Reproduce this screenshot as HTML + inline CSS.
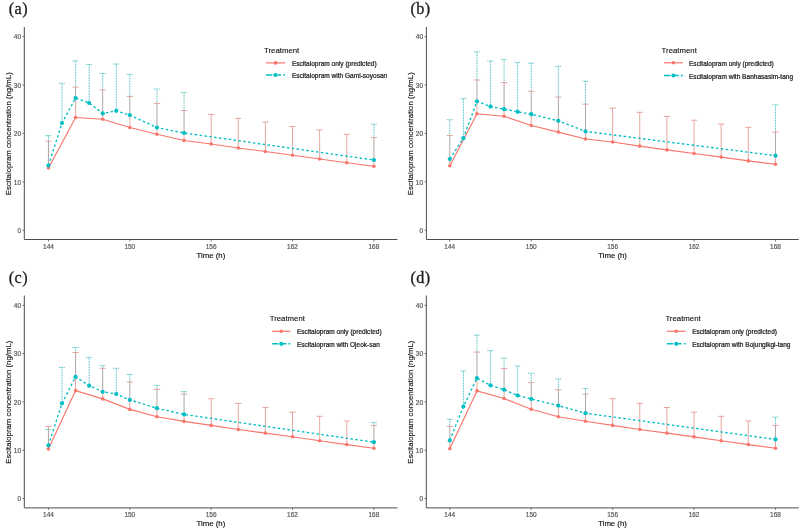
<!DOCTYPE html><html><head><meta charset="utf-8"><style>html,body{margin:0;padding:0;background:#fff;width:800px;height:532px;overflow:hidden}svg{display:block;will-change:transform}</style></head><body>
<svg width="800" height="532" viewBox="0 0 800 532" font-family="'Liberation Sans', sans-serif">
<rect width="800" height="532" fill="#fff"/>
<g><text transform="translate(8.7 14.35) scale(1 0.98)" font-family="'Liberation Serif', serif" font-size="16.2" letter-spacing="0.45" fill="#1a1a1a" stroke="#1a1a1a" stroke-width="0.3">(a)</text><path d="M24.3 27V239.5H397.5" fill="none" stroke="#4d4d4d" stroke-width="1.0"/><path d="M22.4 230.2H24.3" stroke="#4d4d4d" stroke-width="0.8"/><text x="21" y="232.95" font-size="6.5" fill="#5a5a5a" stroke="#5a5a5a" stroke-width="0.2" text-anchor="end">0</text><path d="M22.4 181.8H24.3" stroke="#4d4d4d" stroke-width="0.8"/><text x="21" y="184.55" font-size="6.5" fill="#5a5a5a" stroke="#5a5a5a" stroke-width="0.2" text-anchor="end">10</text><path d="M22.4 133.4H24.3" stroke="#4d4d4d" stroke-width="0.8"/><text x="21" y="136.15" font-size="6.5" fill="#5a5a5a" stroke="#5a5a5a" stroke-width="0.2" text-anchor="end">20</text><path d="M22.4 85H24.3" stroke="#4d4d4d" stroke-width="0.8"/><text x="21" y="87.75" font-size="6.5" fill="#5a5a5a" stroke="#5a5a5a" stroke-width="0.2" text-anchor="end">30</text><path d="M22.4 36.6H24.3" stroke="#4d4d4d" stroke-width="0.8"/><text x="21" y="39.35" font-size="6.5" fill="#5a5a5a" stroke="#5a5a5a" stroke-width="0.2" text-anchor="end">40</text><path d="M48.46 239.5V241.4" stroke="#4d4d4d" stroke-width="0.8"/><text x="48.46" y="248.8" font-size="6.5" fill="#5a5a5a" stroke="#5a5a5a" stroke-width="0.2" text-anchor="middle">144</text><path d="M129.82 239.5V241.4" stroke="#4d4d4d" stroke-width="0.8"/><text x="129.82" y="248.8" font-size="6.5" fill="#5a5a5a" stroke="#5a5a5a" stroke-width="0.2" text-anchor="middle">150</text><path d="M211.18 239.5V241.4" stroke="#4d4d4d" stroke-width="0.8"/><text x="211.18" y="248.8" font-size="6.5" fill="#5a5a5a" stroke="#5a5a5a" stroke-width="0.2" text-anchor="middle">156</text><path d="M292.54 239.5V241.4" stroke="#4d4d4d" stroke-width="0.8"/><text x="292.54" y="248.8" font-size="6.5" fill="#5a5a5a" stroke="#5a5a5a" stroke-width="0.2" text-anchor="middle">162</text><path d="M373.9 239.5V241.4" stroke="#4d4d4d" stroke-width="0.8"/><text x="373.9" y="248.8" font-size="6.5" fill="#5a5a5a" stroke="#5a5a5a" stroke-width="0.2" text-anchor="middle">168</text><text x="210.9" y="257.9" font-size="7.8" fill="#111" stroke="#111" stroke-width="0.15" text-anchor="middle">Time (h)</text><text transform="translate(10.8 133.75) rotate(-90)" font-size="7.8" fill="#111" stroke="#111" stroke-width="0.15" text-anchor="middle">Escitalopram concentration (ng/mL)</text><path d="M48.46 168V165.5" stroke="#E3968F" stroke-width="0.85" fill="none"/><path d="M48.46 141.2V135.7" stroke="#14AAAD" stroke-width="0.9" fill="none" stroke-dasharray="0.8 0.8"/><path d="M48.46 165.5V141.2" stroke="#A09696" stroke-width="0.85" fill="none"/><path d="M45.36 141.2H51.56" stroke="#E3968F" stroke-width="0.85" fill="none"/><path d="M45.46 135.7H51.46" stroke="#14AAAD" stroke-width="0.9" fill="none" stroke-dasharray="0.8 0.8"/><path d="M62.02 123V83.3" stroke="#14AAAD" stroke-width="0.9" fill="none" stroke-dasharray="0.8 0.8"/><path d="M59.02 83.3H65.02" stroke="#14AAAD" stroke-width="0.9" fill="none" stroke-dasharray="0.8 0.8"/><path d="M75.58 117.5V98" stroke="#E3968F" stroke-width="0.85" fill="none"/><path d="M75.58 87.2V60.9" stroke="#14AAAD" stroke-width="0.9" fill="none" stroke-dasharray="0.8 0.8"/><path d="M75.58 98V87.2" stroke="#A09696" stroke-width="0.85" fill="none"/><path d="M72.48 87.2H78.68" stroke="#E3968F" stroke-width="0.85" fill="none"/><path d="M72.58 60.9H78.58" stroke="#14AAAD" stroke-width="0.9" fill="none" stroke-dasharray="0.8 0.8"/><path d="M89.14 103V64.5" stroke="#14AAAD" stroke-width="0.9" fill="none" stroke-dasharray="0.8 0.8"/><path d="M86.14 64.5H92.14" stroke="#14AAAD" stroke-width="0.9" fill="none" stroke-dasharray="0.8 0.8"/><path d="M102.7 119.25V113.4" stroke="#E3968F" stroke-width="0.85" fill="none"/><path d="M102.7 89.9V73.4" stroke="#14AAAD" stroke-width="0.9" fill="none" stroke-dasharray="0.8 0.8"/><path d="M102.7 113.4V89.9" stroke="#A09696" stroke-width="0.85" fill="none"/><path d="M99.6 89.9H105.8" stroke="#E3968F" stroke-width="0.85" fill="none"/><path d="M99.7 73.4H105.7" stroke="#14AAAD" stroke-width="0.9" fill="none" stroke-dasharray="0.8 0.8"/><path d="M116.26 110.8V64" stroke="#14AAAD" stroke-width="0.9" fill="none" stroke-dasharray="0.8 0.8"/><path d="M113.26 64H119.26" stroke="#14AAAD" stroke-width="0.9" fill="none" stroke-dasharray="0.8 0.8"/><path d="M129.82 127.5V115.1" stroke="#E3968F" stroke-width="0.85" fill="none"/><path d="M129.82 96.4V74.4" stroke="#14AAAD" stroke-width="0.9" fill="none" stroke-dasharray="0.8 0.8"/><path d="M129.82 115.1V96.4" stroke="#A09696" stroke-width="0.85" fill="none"/><path d="M126.72 96.4H132.92" stroke="#E3968F" stroke-width="0.85" fill="none"/><path d="M126.82 74.4H132.82" stroke="#14AAAD" stroke-width="0.9" fill="none" stroke-dasharray="0.8 0.8"/><path d="M156.94 134.25V127.6" stroke="#E3968F" stroke-width="0.85" fill="none"/><path d="M156.94 103.4V89" stroke="#14AAAD" stroke-width="0.9" fill="none" stroke-dasharray="0.8 0.8"/><path d="M156.94 127.6V103.4" stroke="#A09696" stroke-width="0.85" fill="none"/><path d="M153.84 103.4H160.04" stroke="#E3968F" stroke-width="0.85" fill="none"/><path d="M153.94 89H159.94" stroke="#14AAAD" stroke-width="0.9" fill="none" stroke-dasharray="0.8 0.8"/><path d="M184.06 140.5V133" stroke="#E3968F" stroke-width="0.85" fill="none"/><path d="M184.06 110.5V92.5" stroke="#14AAAD" stroke-width="0.9" fill="none" stroke-dasharray="0.8 0.8"/><path d="M184.06 133V110.5" stroke="#A09696" stroke-width="0.85" fill="none"/><path d="M180.96 110.5H187.16" stroke="#E3968F" stroke-width="0.85" fill="none"/><path d="M181.06 92.5H187.06" stroke="#14AAAD" stroke-width="0.9" fill="none" stroke-dasharray="0.8 0.8"/><path d="M211.18 144V114.4" stroke="#E3968F" stroke-width="0.85" fill="none"/><path d="M208.08 114.4H214.28" stroke="#E3968F" stroke-width="0.85" fill="none"/><path d="M238.3 148V118.3" stroke="#E3968F" stroke-width="0.85" fill="none"/><path d="M235.2 118.3H241.4" stroke="#E3968F" stroke-width="0.85" fill="none"/><path d="M265.42 151.5V122" stroke="#E3968F" stroke-width="0.85" fill="none"/><path d="M262.32 122H268.52" stroke="#E3968F" stroke-width="0.85" fill="none"/><path d="M292.54 155.25V126.5" stroke="#E3968F" stroke-width="0.85" fill="none"/><path d="M289.44 126.5H295.64" stroke="#E3968F" stroke-width="0.85" fill="none"/><path d="M319.66 159V130" stroke="#E3968F" stroke-width="0.85" fill="none"/><path d="M316.56 130H322.76" stroke="#E3968F" stroke-width="0.85" fill="none"/><path d="M346.78 162.75V134.25" stroke="#E3968F" stroke-width="0.85" fill="none"/><path d="M343.68 134.25H349.88" stroke="#E3968F" stroke-width="0.85" fill="none"/><path d="M373.9 166.25V160" stroke="#E3968F" stroke-width="0.85" fill="none"/><path d="M373.9 137.5V124.25" stroke="#14AAAD" stroke-width="0.9" fill="none" stroke-dasharray="0.8 0.8"/><path d="M373.9 160V137.5" stroke="#A09696" stroke-width="0.85" fill="none"/><path d="M370.8 137.5H377" stroke="#E3968F" stroke-width="0.85" fill="none"/><path d="M370.9 124.25H376.9" stroke="#14AAAD" stroke-width="0.9" fill="none" stroke-dasharray="0.8 0.8"/><polyline points="48.46,168 75.58,117.5 102.7,119.25 129.82,127.5 156.94,134.25 184.06,140.5 211.18,144 238.3,148 265.42,151.5 292.54,155.25 319.66,159 346.78,162.75 373.9,166.25" fill="none" stroke="#F8766D" stroke-width="1.15" stroke-linejoin="round"/><circle cx="48.46" cy="168" r="1.8" fill="#F8766D"/><circle cx="75.58" cy="117.5" r="1.8" fill="#F8766D"/><circle cx="102.7" cy="119.25" r="1.8" fill="#F8766D"/><circle cx="129.82" cy="127.5" r="1.8" fill="#F8766D"/><circle cx="156.94" cy="134.25" r="1.8" fill="#F8766D"/><circle cx="184.06" cy="140.5" r="1.8" fill="#F8766D"/><circle cx="211.18" cy="144" r="1.8" fill="#F8766D"/><circle cx="238.3" cy="148" r="1.8" fill="#F8766D"/><circle cx="265.42" cy="151.5" r="1.8" fill="#F8766D"/><circle cx="292.54" cy="155.25" r="1.8" fill="#F8766D"/><circle cx="319.66" cy="159" r="1.8" fill="#F8766D"/><circle cx="346.78" cy="162.75" r="1.8" fill="#F8766D"/><circle cx="373.9" cy="166.25" r="1.8" fill="#F8766D"/><polyline points="48.46,165.5 62.02,123 75.58,98 89.14,103 102.7,113.4 116.26,110.8 129.82,115.1 156.94,127.6 184.06,133 373.9,160" fill="none" stroke="#00BFC4" stroke-width="1.35" stroke-dasharray="2.5 2.4"/><circle cx="48.46" cy="165.5" r="2.1" fill="#00BFC4"/><circle cx="62.02" cy="123" r="2.1" fill="#00BFC4"/><circle cx="75.58" cy="98" r="2.1" fill="#00BFC4"/><circle cx="89.14" cy="103" r="2.1" fill="#00BFC4"/><circle cx="102.7" cy="113.4" r="2.1" fill="#00BFC4"/><circle cx="116.26" cy="110.8" r="2.1" fill="#00BFC4"/><circle cx="129.82" cy="115.1" r="2.1" fill="#00BFC4"/><circle cx="156.94" cy="127.6" r="2.1" fill="#00BFC4"/><circle cx="184.06" cy="133" r="2.1" fill="#00BFC4"/><circle cx="373.9" cy="160" r="2.1" fill="#00BFC4"/><text x="264" y="52.9" font-size="7.8" fill="#111" stroke="#111" stroke-width="0.12">Treatment</text><path d="M265.9 62.9H285.1" stroke="#F8766D" stroke-width="1.2"/><circle cx="275.5" cy="62.9" r="1.8" fill="#F8766D"/><path d="M265.9 75H285.1" stroke="#00BFC4" stroke-width="1.6" stroke-dasharray="6.5 5 3.6 2.2 1.9 5"/><circle cx="275.5" cy="75" r="2.1" fill="#00BFC4"/><text x="291.9" y="66" font-size="6.55" fill="#222" stroke="#222" stroke-width="0.22">Escitalopram only (predicted)</text><text x="291.9" y="78.1" font-size="6.55" fill="#222" stroke="#222" stroke-width="0.22">Escitalopram with Gami-soyosan</text></g>
<g><text transform="translate(410.4 14.35) scale(1 0.98)" font-family="'Liberation Serif', serif" font-size="16.2" letter-spacing="0.45" fill="#1a1a1a" stroke="#1a1a1a" stroke-width="0.3">(b)</text><path d="M426.4 27V239.5H798.8" fill="none" stroke="#4d4d4d" stroke-width="1.0"/><path d="M424.5 230.2H426.4" stroke="#4d4d4d" stroke-width="0.8"/><text x="423.1" y="232.95" font-size="6.5" fill="#5a5a5a" stroke="#5a5a5a" stroke-width="0.2" text-anchor="end">0</text><path d="M424.5 181.8H426.4" stroke="#4d4d4d" stroke-width="0.8"/><text x="423.1" y="184.55" font-size="6.5" fill="#5a5a5a" stroke="#5a5a5a" stroke-width="0.2" text-anchor="end">10</text><path d="M424.5 133.4H426.4" stroke="#4d4d4d" stroke-width="0.8"/><text x="423.1" y="136.15" font-size="6.5" fill="#5a5a5a" stroke="#5a5a5a" stroke-width="0.2" text-anchor="end">20</text><path d="M424.5 85H426.4" stroke="#4d4d4d" stroke-width="0.8"/><text x="423.1" y="87.75" font-size="6.5" fill="#5a5a5a" stroke="#5a5a5a" stroke-width="0.2" text-anchor="end">30</text><path d="M424.5 36.6H426.4" stroke="#4d4d4d" stroke-width="0.8"/><text x="423.1" y="39.35" font-size="6.5" fill="#5a5a5a" stroke="#5a5a5a" stroke-width="0.2" text-anchor="end">40</text><path d="M449.8 239.5V241.4" stroke="#4d4d4d" stroke-width="0.8"/><text x="449.8" y="248.8" font-size="6.5" fill="#5a5a5a" stroke="#5a5a5a" stroke-width="0.2" text-anchor="middle">144</text><path d="M531.22 239.5V241.4" stroke="#4d4d4d" stroke-width="0.8"/><text x="531.22" y="248.8" font-size="6.5" fill="#5a5a5a" stroke="#5a5a5a" stroke-width="0.2" text-anchor="middle">150</text><path d="M612.64 239.5V241.4" stroke="#4d4d4d" stroke-width="0.8"/><text x="612.64" y="248.8" font-size="6.5" fill="#5a5a5a" stroke="#5a5a5a" stroke-width="0.2" text-anchor="middle">156</text><path d="M694.06 239.5V241.4" stroke="#4d4d4d" stroke-width="0.8"/><text x="694.06" y="248.8" font-size="6.5" fill="#5a5a5a" stroke="#5a5a5a" stroke-width="0.2" text-anchor="middle">162</text><path d="M775.48 239.5V241.4" stroke="#4d4d4d" stroke-width="0.8"/><text x="775.48" y="248.8" font-size="6.5" fill="#5a5a5a" stroke="#5a5a5a" stroke-width="0.2" text-anchor="middle">168</text><text x="612.6" y="257.9" font-size="7.8" fill="#111" stroke="#111" stroke-width="0.15" text-anchor="middle">Time (h)</text><text transform="translate(412.9 133.75) rotate(-90)" font-size="7.8" fill="#111" stroke="#111" stroke-width="0.15" text-anchor="middle">Escitalopram concentration (ng/mL)</text><path d="M449.8 165.8V159" stroke="#E3968F" stroke-width="0.85" fill="none"/><path d="M449.8 135.5V119.7" stroke="#14AAAD" stroke-width="0.9" fill="none" stroke-dasharray="0.8 0.8"/><path d="M449.8 159V135.5" stroke="#A09696" stroke-width="0.85" fill="none"/><path d="M446.7 135.5H452.9" stroke="#E3968F" stroke-width="0.85" fill="none"/><path d="M446.8 119.7H452.8" stroke="#14AAAD" stroke-width="0.9" fill="none" stroke-dasharray="0.8 0.8"/><path d="M463.37 138.2V98.4" stroke="#14AAAD" stroke-width="0.9" fill="none" stroke-dasharray="0.8 0.8"/><path d="M460.37 98.4H466.37" stroke="#14AAAD" stroke-width="0.9" fill="none" stroke-dasharray="0.8 0.8"/><path d="M476.94 113.7V101.3" stroke="#E3968F" stroke-width="0.85" fill="none"/><path d="M476.94 80V51.8" stroke="#14AAAD" stroke-width="0.9" fill="none" stroke-dasharray="0.8 0.8"/><path d="M476.94 101.3V80" stroke="#A09696" stroke-width="0.85" fill="none"/><path d="M473.84 80H480.04" stroke="#E3968F" stroke-width="0.85" fill="none"/><path d="M473.94 51.8H479.94" stroke="#14AAAD" stroke-width="0.9" fill="none" stroke-dasharray="0.8 0.8"/><path d="M490.51 106.6V61" stroke="#14AAAD" stroke-width="0.9" fill="none" stroke-dasharray="0.8 0.8"/><path d="M487.51 61H493.51" stroke="#14AAAD" stroke-width="0.9" fill="none" stroke-dasharray="0.8 0.8"/><path d="M504.08 116.3V109.2" stroke="#E3968F" stroke-width="0.85" fill="none"/><path d="M504.08 82.6V59.7" stroke="#14AAAD" stroke-width="0.9" fill="none" stroke-dasharray="0.8 0.8"/><path d="M504.08 109.2V82.6" stroke="#A09696" stroke-width="0.85" fill="none"/><path d="M500.98 82.6H507.18" stroke="#E3968F" stroke-width="0.85" fill="none"/><path d="M501.08 59.7H507.08" stroke="#14AAAD" stroke-width="0.9" fill="none" stroke-dasharray="0.8 0.8"/><path d="M517.65 111.8V62.4" stroke="#14AAAD" stroke-width="0.9" fill="none" stroke-dasharray="0.8 0.8"/><path d="M514.65 62.4H520.65" stroke="#14AAAD" stroke-width="0.9" fill="none" stroke-dasharray="0.8 0.8"/><path d="M531.22 125.5V114.2" stroke="#E3968F" stroke-width="0.85" fill="none"/><path d="M531.22 91.3V63.2" stroke="#14AAAD" stroke-width="0.9" fill="none" stroke-dasharray="0.8 0.8"/><path d="M531.22 114.2V91.3" stroke="#A09696" stroke-width="0.85" fill="none"/><path d="M528.12 91.3H534.32" stroke="#E3968F" stroke-width="0.85" fill="none"/><path d="M528.22 63.2H534.22" stroke="#14AAAD" stroke-width="0.9" fill="none" stroke-dasharray="0.8 0.8"/><path d="M558.36 132.1V120.8" stroke="#E3968F" stroke-width="0.85" fill="none"/><path d="M558.36 97.1V66.3" stroke="#14AAAD" stroke-width="0.9" fill="none" stroke-dasharray="0.8 0.8"/><path d="M558.36 120.8V97.1" stroke="#A09696" stroke-width="0.85" fill="none"/><path d="M555.26 97.1H561.46" stroke="#E3968F" stroke-width="0.85" fill="none"/><path d="M555.36 66.3H561.36" stroke="#14AAAD" stroke-width="0.9" fill="none" stroke-dasharray="0.8 0.8"/><path d="M585.5 139V131.4" stroke="#E3968F" stroke-width="0.85" fill="none"/><path d="M585.5 104.2V81.2" stroke="#14AAAD" stroke-width="0.9" fill="none" stroke-dasharray="0.8 0.8"/><path d="M585.5 131.4V104.2" stroke="#A09696" stroke-width="0.85" fill="none"/><path d="M582.4 104.2H588.6" stroke="#E3968F" stroke-width="0.85" fill="none"/><path d="M582.5 81.2H588.5" stroke="#14AAAD" stroke-width="0.9" fill="none" stroke-dasharray="0.8 0.8"/><path d="M612.64 142V108.1" stroke="#E3968F" stroke-width="0.85" fill="none"/><path d="M609.54 108.1H615.74" stroke="#E3968F" stroke-width="0.85" fill="none"/><path d="M639.78 146.1V112.3" stroke="#E3968F" stroke-width="0.85" fill="none"/><path d="M636.68 112.3H642.88" stroke="#E3968F" stroke-width="0.85" fill="none"/><path d="M666.92 149.9V116.4" stroke="#E3968F" stroke-width="0.85" fill="none"/><path d="M663.82 116.4H670.02" stroke="#E3968F" stroke-width="0.85" fill="none"/><path d="M694.06 153.5V120.2" stroke="#E3968F" stroke-width="0.85" fill="none"/><path d="M690.96 120.2H697.16" stroke="#E3968F" stroke-width="0.85" fill="none"/><path d="M721.2 157.1V124.1" stroke="#E3968F" stroke-width="0.85" fill="none"/><path d="M718.1 124.1H724.3" stroke="#E3968F" stroke-width="0.85" fill="none"/><path d="M748.34 160.9V127.4" stroke="#E3968F" stroke-width="0.85" fill="none"/><path d="M745.24 127.4H751.44" stroke="#E3968F" stroke-width="0.85" fill="none"/><path d="M775.48 164.2V155.7" stroke="#E3968F" stroke-width="0.85" fill="none"/><path d="M775.48 132.1V104.8" stroke="#14AAAD" stroke-width="0.9" fill="none" stroke-dasharray="0.8 0.8"/><path d="M775.48 155.7V132.1" stroke="#A09696" stroke-width="0.85" fill="none"/><path d="M772.38 132.1H778.58" stroke="#E3968F" stroke-width="0.85" fill="none"/><path d="M772.48 104.8H778.48" stroke="#14AAAD" stroke-width="0.9" fill="none" stroke-dasharray="0.8 0.8"/><polyline points="449.8,165.8 476.94,113.7 504.08,116.3 531.22,125.5 558.36,132.1 585.5,139 612.64,142 639.78,146.1 666.92,149.9 694.06,153.5 721.2,157.1 748.34,160.9 775.48,164.2" fill="none" stroke="#F8766D" stroke-width="1.15" stroke-linejoin="round"/><circle cx="449.8" cy="165.8" r="1.8" fill="#F8766D"/><circle cx="476.94" cy="113.7" r="1.8" fill="#F8766D"/><circle cx="504.08" cy="116.3" r="1.8" fill="#F8766D"/><circle cx="531.22" cy="125.5" r="1.8" fill="#F8766D"/><circle cx="558.36" cy="132.1" r="1.8" fill="#F8766D"/><circle cx="585.5" cy="139" r="1.8" fill="#F8766D"/><circle cx="612.64" cy="142" r="1.8" fill="#F8766D"/><circle cx="639.78" cy="146.1" r="1.8" fill="#F8766D"/><circle cx="666.92" cy="149.9" r="1.8" fill="#F8766D"/><circle cx="694.06" cy="153.5" r="1.8" fill="#F8766D"/><circle cx="721.2" cy="157.1" r="1.8" fill="#F8766D"/><circle cx="748.34" cy="160.9" r="1.8" fill="#F8766D"/><circle cx="775.48" cy="164.2" r="1.8" fill="#F8766D"/><polyline points="449.8,159 463.37,138.2 476.94,101.3 490.51,106.6 504.08,109.2 517.65,111.8 531.22,114.2 558.36,120.8 585.5,131.4 775.48,155.7" fill="none" stroke="#00BFC4" stroke-width="1.35" stroke-dasharray="2.5 2.4"/><circle cx="449.8" cy="159" r="2.1" fill="#00BFC4"/><circle cx="463.37" cy="138.2" r="2.1" fill="#00BFC4"/><circle cx="476.94" cy="101.3" r="2.1" fill="#00BFC4"/><circle cx="490.51" cy="106.6" r="2.1" fill="#00BFC4"/><circle cx="504.08" cy="109.2" r="2.1" fill="#00BFC4"/><circle cx="517.65" cy="111.8" r="2.1" fill="#00BFC4"/><circle cx="531.22" cy="114.2" r="2.1" fill="#00BFC4"/><circle cx="558.36" cy="120.8" r="2.1" fill="#00BFC4"/><circle cx="585.5" cy="131.4" r="2.1" fill="#00BFC4"/><circle cx="775.48" cy="155.7" r="2.1" fill="#00BFC4"/><text x="661.6" y="53" font-size="7.8" fill="#111" stroke="#111" stroke-width="0.12">Treatment</text><path d="M664 62.8H682.8" stroke="#F8766D" stroke-width="1.2"/><circle cx="673.4" cy="62.8" r="1.8" fill="#F8766D"/><path d="M664 75.5H682.8" stroke="#00BFC4" stroke-width="1.6" stroke-dasharray="6.36 4.9 3.52 2.15 1.86 4.9"/><circle cx="673.4" cy="75.5" r="2.1" fill="#00BFC4"/><text x="689" y="65.9" font-size="6.55" fill="#222" stroke="#222" stroke-width="0.22">Escitalopram only (predicted)</text><text x="689" y="78.6" font-size="6.55" fill="#222" stroke="#222" stroke-width="0.22">Escitalopram with Banhasasim-tang</text></g>
<g><text transform="translate(8.7 283.25) scale(1 0.98)" font-family="'Liberation Serif', serif" font-size="16.2" letter-spacing="0.45" fill="#1a1a1a" stroke="#1a1a1a" stroke-width="0.3">(c)</text><path d="M24.3 295.5V507.9H397.5" fill="none" stroke="#4d4d4d" stroke-width="1.0"/><path d="M22.4 498.5H24.3" stroke="#4d4d4d" stroke-width="0.8"/><text x="21" y="501.25" font-size="6.5" fill="#5a5a5a" stroke="#5a5a5a" stroke-width="0.2" text-anchor="end">0</text><path d="M22.4 450.2H24.3" stroke="#4d4d4d" stroke-width="0.8"/><text x="21" y="452.95" font-size="6.5" fill="#5a5a5a" stroke="#5a5a5a" stroke-width="0.2" text-anchor="end">10</text><path d="M22.4 401.9H24.3" stroke="#4d4d4d" stroke-width="0.8"/><text x="21" y="404.65" font-size="6.5" fill="#5a5a5a" stroke="#5a5a5a" stroke-width="0.2" text-anchor="end">20</text><path d="M22.4 353.6H24.3" stroke="#4d4d4d" stroke-width="0.8"/><text x="21" y="356.35" font-size="6.5" fill="#5a5a5a" stroke="#5a5a5a" stroke-width="0.2" text-anchor="end">30</text><path d="M22.4 305.3H24.3" stroke="#4d4d4d" stroke-width="0.8"/><text x="21" y="308.05" font-size="6.5" fill="#5a5a5a" stroke="#5a5a5a" stroke-width="0.2" text-anchor="end">40</text><path d="M48.46 507.9V509.8" stroke="#4d4d4d" stroke-width="0.8"/><text x="48.46" y="517.2" font-size="6.5" fill="#5a5a5a" stroke="#5a5a5a" stroke-width="0.2" text-anchor="middle">144</text><path d="M129.82 507.9V509.8" stroke="#4d4d4d" stroke-width="0.8"/><text x="129.82" y="517.2" font-size="6.5" fill="#5a5a5a" stroke="#5a5a5a" stroke-width="0.2" text-anchor="middle">150</text><path d="M211.18 507.9V509.8" stroke="#4d4d4d" stroke-width="0.8"/><text x="211.18" y="517.2" font-size="6.5" fill="#5a5a5a" stroke="#5a5a5a" stroke-width="0.2" text-anchor="middle">156</text><path d="M292.54 507.9V509.8" stroke="#4d4d4d" stroke-width="0.8"/><text x="292.54" y="517.2" font-size="6.5" fill="#5a5a5a" stroke="#5a5a5a" stroke-width="0.2" text-anchor="middle">162</text><path d="M373.9 507.9V509.8" stroke="#4d4d4d" stroke-width="0.8"/><text x="373.9" y="517.2" font-size="6.5" fill="#5a5a5a" stroke="#5a5a5a" stroke-width="0.2" text-anchor="middle">168</text><text x="210.9" y="526.3" font-size="7.8" fill="#111" stroke="#111" stroke-width="0.15" text-anchor="middle">Time (h)</text><text transform="translate(10.8 402.2) rotate(-90)" font-size="7.8" fill="#111" stroke="#111" stroke-width="0.15" text-anchor="middle">Escitalopram concentration (ng/mL)</text><path d="M48.46 449V445.3" stroke="#E3968F" stroke-width="0.85" fill="none"/><path d="M48.46 429.5V426.5" stroke="#E3968F" stroke-width="0.85" fill="none"/><path d="M48.46 445.3V429.5" stroke="#A09696" stroke-width="0.85" fill="none"/><path d="M45.36 426.5H51.56" stroke="#E3968F" stroke-width="0.85" fill="none"/><path d="M45.46 429.5H51.46" stroke="#14AAAD" stroke-width="0.9" fill="none" stroke-dasharray="0.8 0.8"/><path d="M62.02 403.3V367.4" stroke="#14AAAD" stroke-width="0.9" fill="none" stroke-dasharray="0.8 0.8"/><path d="M59.02 367.4H65.02" stroke="#14AAAD" stroke-width="0.9" fill="none" stroke-dasharray="0.8 0.8"/><path d="M75.58 390.6V376.9" stroke="#E3968F" stroke-width="0.85" fill="none"/><path d="M75.58 352.5V347.5" stroke="#14AAAD" stroke-width="0.9" fill="none" stroke-dasharray="0.8 0.8"/><path d="M75.58 376.9V352.5" stroke="#A09696" stroke-width="0.85" fill="none"/><path d="M72.48 352.5H78.68" stroke="#E3968F" stroke-width="0.85" fill="none"/><path d="M72.58 347.5H78.58" stroke="#14AAAD" stroke-width="0.9" fill="none" stroke-dasharray="0.8 0.8"/><path d="M89.14 385.7V357.4" stroke="#14AAAD" stroke-width="0.9" fill="none" stroke-dasharray="0.8 0.8"/><path d="M86.14 357.4H92.14" stroke="#14AAAD" stroke-width="0.9" fill="none" stroke-dasharray="0.8 0.8"/><path d="M102.7 398.9V391.8" stroke="#E3968F" stroke-width="0.85" fill="none"/><path d="M102.7 368.3V365.4" stroke="#14AAAD" stroke-width="0.9" fill="none" stroke-dasharray="0.8 0.8"/><path d="M102.7 391.8V368.3" stroke="#A09696" stroke-width="0.85" fill="none"/><path d="M99.6 368.3H105.8" stroke="#E3968F" stroke-width="0.85" fill="none"/><path d="M99.7 365.4H105.7" stroke="#14AAAD" stroke-width="0.9" fill="none" stroke-dasharray="0.8 0.8"/><path d="M116.26 394V368.3" stroke="#14AAAD" stroke-width="0.9" fill="none" stroke-dasharray="0.8 0.8"/><path d="M113.26 368.3H119.26" stroke="#14AAAD" stroke-width="0.9" fill="none" stroke-dasharray="0.8 0.8"/><path d="M129.82 409.4V399.9" stroke="#E3968F" stroke-width="0.85" fill="none"/><path d="M129.82 382V374.5" stroke="#14AAAD" stroke-width="0.9" fill="none" stroke-dasharray="0.8 0.8"/><path d="M129.82 399.9V382" stroke="#A09696" stroke-width="0.85" fill="none"/><path d="M126.72 382H132.92" stroke="#E3968F" stroke-width="0.85" fill="none"/><path d="M126.82 374.5H132.82" stroke="#14AAAD" stroke-width="0.9" fill="none" stroke-dasharray="0.8 0.8"/><path d="M156.94 416.7V408.2" stroke="#E3968F" stroke-width="0.85" fill="none"/><path d="M156.94 389.4V385.4" stroke="#14AAAD" stroke-width="0.9" fill="none" stroke-dasharray="0.8 0.8"/><path d="M156.94 408.2V389.4" stroke="#A09696" stroke-width="0.85" fill="none"/><path d="M153.84 389.4H160.04" stroke="#E3968F" stroke-width="0.85" fill="none"/><path d="M153.94 385.4H159.94" stroke="#14AAAD" stroke-width="0.9" fill="none" stroke-dasharray="0.8 0.8"/><path d="M184.06 421.4V414.4" stroke="#E3968F" stroke-width="0.85" fill="none"/><path d="M184.06 394.2V391.6" stroke="#14AAAD" stroke-width="0.9" fill="none" stroke-dasharray="0.8 0.8"/><path d="M184.06 414.4V394.2" stroke="#A09696" stroke-width="0.85" fill="none"/><path d="M180.96 394.2H187.16" stroke="#E3968F" stroke-width="0.85" fill="none"/><path d="M181.06 391.6H187.06" stroke="#14AAAD" stroke-width="0.9" fill="none" stroke-dasharray="0.8 0.8"/><path d="M211.18 425.4V398.7" stroke="#E3968F" stroke-width="0.85" fill="none"/><path d="M208.08 398.7H214.28" stroke="#E3968F" stroke-width="0.85" fill="none"/><path d="M238.3 429.5V403.4" stroke="#E3968F" stroke-width="0.85" fill="none"/><path d="M235.2 403.4H241.4" stroke="#E3968F" stroke-width="0.85" fill="none"/><path d="M265.42 433.1V407.5" stroke="#E3968F" stroke-width="0.85" fill="none"/><path d="M262.32 407.5H268.52" stroke="#E3968F" stroke-width="0.85" fill="none"/><path d="M292.54 436.7V412.2" stroke="#E3968F" stroke-width="0.85" fill="none"/><path d="M289.44 412.2H295.64" stroke="#E3968F" stroke-width="0.85" fill="none"/><path d="M319.66 440.8V416.3" stroke="#E3968F" stroke-width="0.85" fill="none"/><path d="M316.56 416.3H322.76" stroke="#E3968F" stroke-width="0.85" fill="none"/><path d="M346.78 444.6V421" stroke="#E3968F" stroke-width="0.85" fill="none"/><path d="M343.68 421H349.88" stroke="#E3968F" stroke-width="0.85" fill="none"/><path d="M373.9 448.2V442.2" stroke="#E3968F" stroke-width="0.85" fill="none"/><path d="M373.9 425.4V422.4" stroke="#14AAAD" stroke-width="0.9" fill="none" stroke-dasharray="0.8 0.8"/><path d="M373.9 442.2V425.4" stroke="#A09696" stroke-width="0.85" fill="none"/><path d="M370.8 425.4H377" stroke="#E3968F" stroke-width="0.85" fill="none"/><path d="M370.9 422.4H376.9" stroke="#14AAAD" stroke-width="0.9" fill="none" stroke-dasharray="0.8 0.8"/><polyline points="48.46,449 75.58,390.6 102.7,398.9 129.82,409.4 156.94,416.7 184.06,421.4 211.18,425.4 238.3,429.5 265.42,433.1 292.54,436.7 319.66,440.8 346.78,444.6 373.9,448.2" fill="none" stroke="#F8766D" stroke-width="1.15" stroke-linejoin="round"/><circle cx="48.46" cy="449" r="1.8" fill="#F8766D"/><circle cx="75.58" cy="390.6" r="1.8" fill="#F8766D"/><circle cx="102.7" cy="398.9" r="1.8" fill="#F8766D"/><circle cx="129.82" cy="409.4" r="1.8" fill="#F8766D"/><circle cx="156.94" cy="416.7" r="1.8" fill="#F8766D"/><circle cx="184.06" cy="421.4" r="1.8" fill="#F8766D"/><circle cx="211.18" cy="425.4" r="1.8" fill="#F8766D"/><circle cx="238.3" cy="429.5" r="1.8" fill="#F8766D"/><circle cx="265.42" cy="433.1" r="1.8" fill="#F8766D"/><circle cx="292.54" cy="436.7" r="1.8" fill="#F8766D"/><circle cx="319.66" cy="440.8" r="1.8" fill="#F8766D"/><circle cx="346.78" cy="444.6" r="1.8" fill="#F8766D"/><circle cx="373.9" cy="448.2" r="1.8" fill="#F8766D"/><polyline points="48.46,445.3 62.02,403.3 75.58,376.9 89.14,385.7 102.7,391.8 116.26,394 129.82,399.9 156.94,408.2 184.06,414.4 373.9,442.2" fill="none" stroke="#00BFC4" stroke-width="1.35" stroke-dasharray="2.5 2.4"/><circle cx="48.46" cy="445.3" r="2.1" fill="#00BFC4"/><circle cx="62.02" cy="403.3" r="2.1" fill="#00BFC4"/><circle cx="75.58" cy="376.9" r="2.1" fill="#00BFC4"/><circle cx="89.14" cy="385.7" r="2.1" fill="#00BFC4"/><circle cx="102.7" cy="391.8" r="2.1" fill="#00BFC4"/><circle cx="116.26" cy="394" r="2.1" fill="#00BFC4"/><circle cx="129.82" cy="399.9" r="2.1" fill="#00BFC4"/><circle cx="156.94" cy="408.2" r="2.1" fill="#00BFC4"/><circle cx="184.06" cy="414.4" r="2.1" fill="#00BFC4"/><circle cx="373.9" cy="442.2" r="2.1" fill="#00BFC4"/><text x="269.7" y="321.3" font-size="7.8" fill="#111" stroke="#111" stroke-width="0.12">Treatment</text><path d="M272.1 331.3H290.3" stroke="#F8766D" stroke-width="1.2"/><circle cx="281.2" cy="331.3" r="1.8" fill="#F8766D"/><path d="M272.1 343.8H290.3" stroke="#00BFC4" stroke-width="1.6" stroke-dasharray="6.16 4.74 3.41 2.09 1.8 4.74"/><circle cx="281.2" cy="343.8" r="2.1" fill="#00BFC4"/><text x="296.9" y="334.4" font-size="6.55" fill="#222" stroke="#222" stroke-width="0.22">Escitalopram only (predicted)</text><text x="296.9" y="346.9" font-size="6.55" fill="#222" stroke="#222" stroke-width="0.22">Escitalopram with Ojeok-san</text></g>
<g><text transform="translate(410.4 283.25) scale(1 0.98)" font-family="'Liberation Serif', serif" font-size="16.2" letter-spacing="0.45" fill="#1a1a1a" stroke="#1a1a1a" stroke-width="0.3">(d)</text><path d="M426.3 295.5V507.9H798.8" fill="none" stroke="#4d4d4d" stroke-width="1.0"/><path d="M424.4 498.5H426.3" stroke="#4d4d4d" stroke-width="0.8"/><text x="423" y="501.25" font-size="6.5" fill="#5a5a5a" stroke="#5a5a5a" stroke-width="0.2" text-anchor="end">0</text><path d="M424.4 450.2H426.3" stroke="#4d4d4d" stroke-width="0.8"/><text x="423" y="452.95" font-size="6.5" fill="#5a5a5a" stroke="#5a5a5a" stroke-width="0.2" text-anchor="end">10</text><path d="M424.4 401.9H426.3" stroke="#4d4d4d" stroke-width="0.8"/><text x="423" y="404.65" font-size="6.5" fill="#5a5a5a" stroke="#5a5a5a" stroke-width="0.2" text-anchor="end">20</text><path d="M424.4 353.6H426.3" stroke="#4d4d4d" stroke-width="0.8"/><text x="423" y="356.35" font-size="6.5" fill="#5a5a5a" stroke="#5a5a5a" stroke-width="0.2" text-anchor="end">30</text><path d="M424.4 305.3H426.3" stroke="#4d4d4d" stroke-width="0.8"/><text x="423" y="308.05" font-size="6.5" fill="#5a5a5a" stroke="#5a5a5a" stroke-width="0.2" text-anchor="end">40</text><path d="M449.8 507.9V509.8" stroke="#4d4d4d" stroke-width="0.8"/><text x="449.8" y="517.2" font-size="6.5" fill="#5a5a5a" stroke="#5a5a5a" stroke-width="0.2" text-anchor="middle">144</text><path d="M531.22 507.9V509.8" stroke="#4d4d4d" stroke-width="0.8"/><text x="531.22" y="517.2" font-size="6.5" fill="#5a5a5a" stroke="#5a5a5a" stroke-width="0.2" text-anchor="middle">150</text><path d="M612.64 507.9V509.8" stroke="#4d4d4d" stroke-width="0.8"/><text x="612.64" y="517.2" font-size="6.5" fill="#5a5a5a" stroke="#5a5a5a" stroke-width="0.2" text-anchor="middle">156</text><path d="M694.06 507.9V509.8" stroke="#4d4d4d" stroke-width="0.8"/><text x="694.06" y="517.2" font-size="6.5" fill="#5a5a5a" stroke="#5a5a5a" stroke-width="0.2" text-anchor="middle">162</text><path d="M775.48 507.9V509.8" stroke="#4d4d4d" stroke-width="0.8"/><text x="775.48" y="517.2" font-size="6.5" fill="#5a5a5a" stroke="#5a5a5a" stroke-width="0.2" text-anchor="middle">168</text><text x="612.55" y="526.3" font-size="7.8" fill="#111" stroke="#111" stroke-width="0.15" text-anchor="middle">Time (h)</text><text transform="translate(412.8 402.2) rotate(-90)" font-size="7.8" fill="#111" stroke="#111" stroke-width="0.15" text-anchor="middle">Escitalopram concentration (ng/mL)</text><path d="M449.8 448.7V440.4" stroke="#E3968F" stroke-width="0.85" fill="none"/><path d="M449.8 426.4V419.3" stroke="#14AAAD" stroke-width="0.9" fill="none" stroke-dasharray="0.8 0.8"/><path d="M449.8 440.4V426.4" stroke="#A09696" stroke-width="0.85" fill="none"/><path d="M446.7 426.4H452.9" stroke="#E3968F" stroke-width="0.85" fill="none"/><path d="M446.8 419.3H452.8" stroke="#14AAAD" stroke-width="0.9" fill="none" stroke-dasharray="0.8 0.8"/><path d="M463.37 406.6V370.9" stroke="#14AAAD" stroke-width="0.9" fill="none" stroke-dasharray="0.8 0.8"/><path d="M460.37 370.9H466.37" stroke="#14AAAD" stroke-width="0.9" fill="none" stroke-dasharray="0.8 0.8"/><path d="M476.94 390.9V378.2" stroke="#E3968F" stroke-width="0.85" fill="none"/><path d="M476.94 352.1V335.1" stroke="#14AAAD" stroke-width="0.9" fill="none" stroke-dasharray="0.8 0.8"/><path d="M476.94 378.2V352.1" stroke="#A09696" stroke-width="0.85" fill="none"/><path d="M473.84 352.1H480.04" stroke="#E3968F" stroke-width="0.85" fill="none"/><path d="M473.94 335.1H479.94" stroke="#14AAAD" stroke-width="0.9" fill="none" stroke-dasharray="0.8 0.8"/><path d="M490.51 385.3V350.6" stroke="#14AAAD" stroke-width="0.9" fill="none" stroke-dasharray="0.8 0.8"/><path d="M487.51 350.6H493.51" stroke="#14AAAD" stroke-width="0.9" fill="none" stroke-dasharray="0.8 0.8"/><path d="M504.08 398.5V389.7" stroke="#E3968F" stroke-width="0.85" fill="none"/><path d="M504.08 368.6V358.2" stroke="#14AAAD" stroke-width="0.9" fill="none" stroke-dasharray="0.8 0.8"/><path d="M504.08 389.7V368.6" stroke="#A09696" stroke-width="0.85" fill="none"/><path d="M500.98 368.6H507.18" stroke="#E3968F" stroke-width="0.85" fill="none"/><path d="M501.08 358.2H507.08" stroke="#14AAAD" stroke-width="0.9" fill="none" stroke-dasharray="0.8 0.8"/><path d="M517.65 395.5V366.1" stroke="#14AAAD" stroke-width="0.9" fill="none" stroke-dasharray="0.8 0.8"/><path d="M514.65 366.1H520.65" stroke="#14AAAD" stroke-width="0.9" fill="none" stroke-dasharray="0.8 0.8"/><path d="M531.22 409.2V399" stroke="#E3968F" stroke-width="0.85" fill="none"/><path d="M531.22 382.6V373.2" stroke="#14AAAD" stroke-width="0.9" fill="none" stroke-dasharray="0.8 0.8"/><path d="M531.22 399V382.6" stroke="#A09696" stroke-width="0.85" fill="none"/><path d="M528.12 382.6H534.32" stroke="#E3968F" stroke-width="0.85" fill="none"/><path d="M528.22 373.2H534.22" stroke="#14AAAD" stroke-width="0.9" fill="none" stroke-dasharray="0.8 0.8"/><path d="M558.36 416.8V405.6" stroke="#E3968F" stroke-width="0.85" fill="none"/><path d="M558.36 389.7V379" stroke="#14AAAD" stroke-width="0.9" fill="none" stroke-dasharray="0.8 0.8"/><path d="M558.36 405.6V389.7" stroke="#A09696" stroke-width="0.85" fill="none"/><path d="M555.26 389.7H561.46" stroke="#E3968F" stroke-width="0.85" fill="none"/><path d="M555.36 379H561.36" stroke="#14AAAD" stroke-width="0.9" fill="none" stroke-dasharray="0.8 0.8"/><path d="M585.5 421.3V413.2" stroke="#E3968F" stroke-width="0.85" fill="none"/><path d="M585.5 394.1V388.6" stroke="#14AAAD" stroke-width="0.9" fill="none" stroke-dasharray="0.8 0.8"/><path d="M585.5 413.2V394.1" stroke="#A09696" stroke-width="0.85" fill="none"/><path d="M582.4 394.1H588.6" stroke="#E3968F" stroke-width="0.85" fill="none"/><path d="M582.5 388.6H588.5" stroke="#14AAAD" stroke-width="0.9" fill="none" stroke-dasharray="0.8 0.8"/><path d="M612.64 425.4V398.7" stroke="#E3968F" stroke-width="0.85" fill="none"/><path d="M609.54 398.7H615.74" stroke="#E3968F" stroke-width="0.85" fill="none"/><path d="M639.78 429.5V403.4" stroke="#E3968F" stroke-width="0.85" fill="none"/><path d="M636.68 403.4H642.88" stroke="#E3968F" stroke-width="0.85" fill="none"/><path d="M666.92 433.1V407.5" stroke="#E3968F" stroke-width="0.85" fill="none"/><path d="M663.82 407.5H670.02" stroke="#E3968F" stroke-width="0.85" fill="none"/><path d="M694.06 436.9V412.2" stroke="#E3968F" stroke-width="0.85" fill="none"/><path d="M690.96 412.2H697.16" stroke="#E3968F" stroke-width="0.85" fill="none"/><path d="M721.2 440.8V416.3" stroke="#E3968F" stroke-width="0.85" fill="none"/><path d="M718.1 416.3H724.3" stroke="#E3968F" stroke-width="0.85" fill="none"/><path d="M748.34 444.6V421" stroke="#E3968F" stroke-width="0.85" fill="none"/><path d="M745.24 421H751.44" stroke="#E3968F" stroke-width="0.85" fill="none"/><path d="M775.48 448.2V439.4" stroke="#E3968F" stroke-width="0.85" fill="none"/><path d="M775.48 425.4V417.1" stroke="#14AAAD" stroke-width="0.9" fill="none" stroke-dasharray="0.8 0.8"/><path d="M775.48 439.4V425.4" stroke="#A09696" stroke-width="0.85" fill="none"/><path d="M772.38 425.4H778.58" stroke="#E3968F" stroke-width="0.85" fill="none"/><path d="M772.48 417.1H778.48" stroke="#14AAAD" stroke-width="0.9" fill="none" stroke-dasharray="0.8 0.8"/><polyline points="449.8,448.7 476.94,390.9 504.08,398.5 531.22,409.2 558.36,416.8 585.5,421.3 612.64,425.4 639.78,429.5 666.92,433.1 694.06,436.9 721.2,440.8 748.34,444.6 775.48,448.2" fill="none" stroke="#F8766D" stroke-width="1.15" stroke-linejoin="round"/><circle cx="449.8" cy="448.7" r="1.8" fill="#F8766D"/><circle cx="476.94" cy="390.9" r="1.8" fill="#F8766D"/><circle cx="504.08" cy="398.5" r="1.8" fill="#F8766D"/><circle cx="531.22" cy="409.2" r="1.8" fill="#F8766D"/><circle cx="558.36" cy="416.8" r="1.8" fill="#F8766D"/><circle cx="585.5" cy="421.3" r="1.8" fill="#F8766D"/><circle cx="612.64" cy="425.4" r="1.8" fill="#F8766D"/><circle cx="639.78" cy="429.5" r="1.8" fill="#F8766D"/><circle cx="666.92" cy="433.1" r="1.8" fill="#F8766D"/><circle cx="694.06" cy="436.9" r="1.8" fill="#F8766D"/><circle cx="721.2" cy="440.8" r="1.8" fill="#F8766D"/><circle cx="748.34" cy="444.6" r="1.8" fill="#F8766D"/><circle cx="775.48" cy="448.2" r="1.8" fill="#F8766D"/><polyline points="449.8,440.4 463.37,406.6 476.94,378.2 490.51,385.3 504.08,389.7 517.65,395.5 531.22,399 558.36,405.6 585.5,413.2 775.48,439.4" fill="none" stroke="#00BFC4" stroke-width="1.35" stroke-dasharray="2.5 2.4"/><circle cx="449.8" cy="440.4" r="2.1" fill="#00BFC4"/><circle cx="463.37" cy="406.6" r="2.1" fill="#00BFC4"/><circle cx="476.94" cy="378.2" r="2.1" fill="#00BFC4"/><circle cx="490.51" cy="385.3" r="2.1" fill="#00BFC4"/><circle cx="504.08" cy="389.7" r="2.1" fill="#00BFC4"/><circle cx="517.65" cy="395.5" r="2.1" fill="#00BFC4"/><circle cx="531.22" cy="399" r="2.1" fill="#00BFC4"/><circle cx="558.36" cy="405.6" r="2.1" fill="#00BFC4"/><circle cx="585.5" cy="413.2" r="2.1" fill="#00BFC4"/><circle cx="775.48" cy="439.4" r="2.1" fill="#00BFC4"/><text x="665.4" y="321.3" font-size="7.8" fill="#111" stroke="#111" stroke-width="0.12">Treatment</text><path d="M666.9 331.3H685.6" stroke="#F8766D" stroke-width="1.2"/><circle cx="676.25" cy="331.3" r="1.8" fill="#F8766D"/><path d="M666.9 343.8H685.6" stroke="#00BFC4" stroke-width="1.6" stroke-dasharray="6.33 4.87 3.51 2.14 1.85 4.87"/><circle cx="676.25" cy="343.8" r="2.1" fill="#00BFC4"/><text x="692.2" y="334.4" font-size="6.55" fill="#222" stroke="#222" stroke-width="0.22">Escitalopram only (predicted)</text><text x="692.2" y="346.9" font-size="6.55" fill="#222" stroke="#222" stroke-width="0.22">Escitalopram with Bojungikgi-tang</text></g>
</svg></body></html>
